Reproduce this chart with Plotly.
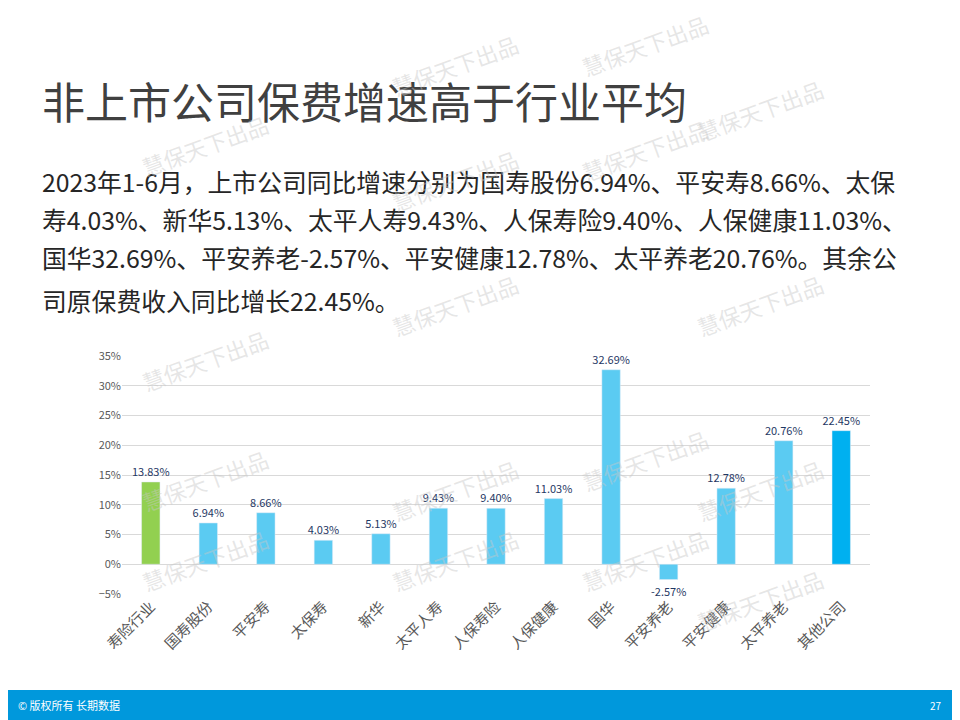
import plotly.graph_objects as go

categories = ["寿险行业","国寿股份","平安寿","太保寿","新华","太平人寿","人保寿险","人保健康","国华","平安养老","平安健康","太平养老","其他公司"]
values = [13.83,6.94,8.66,4.03,5.13,9.43,9.40,11.03,32.69,-2.57,12.78,20.76,22.45]
colors = ["#92D050"] + ["#5BCBF2"]*11 + ["#00B0F0"]
labels = [f"{v:.2f}%" for v in values]

title = "非上市公司保费增速高于行业平均"
body_lines = [
    "2023年1-6月，上市公司同比增速分别为国寿股份6.94%、平安寿8.66%、太保",
    "寿4.03%、新华5.13%、太平人寿9.43%、人保寿险9.40%、人保健康11.03%、",
    "国华32.69%、平安养老-2.57%、平安健康12.78%、太平养老20.76%。其余公",
    "司原保费收入同比增长22.45%。",
]
FONT = "Noto Sans CJK SC"
OFF = 8

def px(x):
    return (x - OFF) / 960
def py(y):
    return 1 - (y - OFF) / 720

fig = go.Figure(go.Bar(
    x=categories, y=values, marker_color=colors, text=labels,
    textposition="outside", textangle=0, constraintext="none",
    textfont=dict(size=11, color="#1F3864"), cliponaxis=False,
))
fig.update_layout(
    width=960, height=720, margin=dict(l=0, r=0, t=0, b=0, autoexpand=False),
    paper_bgcolor="white", plot_bgcolor="white", showlegend=False,
    font=dict(family=FONT, color="#595959"), bargap=0.68,
    xaxis=dict(domain=[px(122), px(870)], tickangle=-45, tickfont=dict(size=15, color="#595959"),
               showline=False, ticks="", automargin=False),
    yaxis=dict(domain=[py(594), py(356)], range=[-5, 35], dtick=5, ticksuffix="%",
               tickfont=dict(size=11, color="#595959"), gridcolor="#D9D9D9",
               zeroline=True, zerolinecolor="#D9D9D9", zerolinewidth=1, automargin=False),
)
fig.add_annotation(text=title, xref="paper", yref="paper", x=px(40), y=py(100),
                   xanchor="left", yanchor="middle", showarrow=False,
                   font=dict(size=43, color="#404040", family=FONT))
for yy, line in zip([181, 219, 257, 300], body_lines):
    fig.add_annotation(text=line, xref="paper", yref="paper", x=px(40), y=py(yy),
                       xanchor="left", yanchor="middle", showarrow=False,
                       font=dict(size=24.8, color="#262626", family=FONT))
fig.add_shape(type="rect", xref="paper", yref="paper", x0=-0.05, x1=1.05, y0=-0.05, y1=py(690),
              fillcolor="#0098DC", line_width=0, layer="below")
fig.add_annotation(text="© 版权所有 长期数据", xref="paper", yref="paper", x=px(16), y=py(705),
                   xanchor="left", yanchor="middle", showarrow=False,
                   font=dict(size=11, color="white", family=FONT))
fig.add_annotation(text="27", xref="paper", yref="paper", x=px(944), y=py(705),
                   xanchor="right", yanchor="middle", showarrow=False,
                   font=dict(size=10, color="white", family=FONT))
wm = [(135,105),(455,25),(830,70),(455,140),(830,305),(135,360),(455,305),(830,530),
      (135,480),(455,530),(830,640),(135,600),(455,600),(645,5),(645,600),(645,460),(645,110)]
for x, y in wm:
    fig.add_annotation(text="慧保天下出品", xref="paper", yref="paper", x=px(x), y=py(y),
                       showarrow=False, textangle=-20,
                       font=dict(size=22, color="rgba(200,200,200,0.45)", family=FONT))
fig.write_html("out.html")
